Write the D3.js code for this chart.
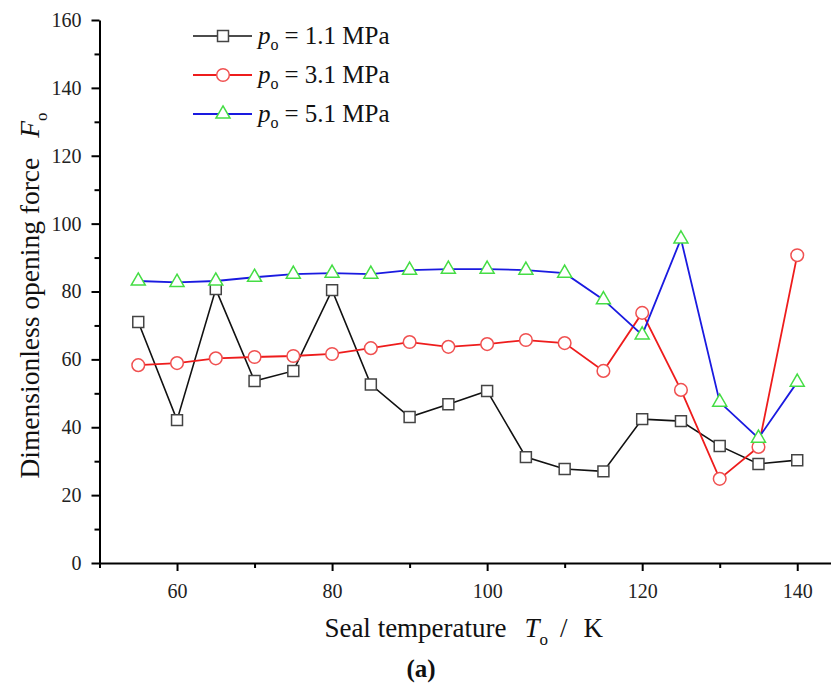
<!DOCTYPE html>
<html lang="en">
<head>
<meta charset="utf-8">
<title>Dimensionless opening force vs seal temperature</title>
<script src="https://d3js.org/d3.v7.min.js"></script>
<style>
  body { margin: 0; background: #fff; }
  svg text { font-family: "Liberation Serif", "Times New Roman", serif; }
</style>
</head>
<body>
<script>
// data
var temps = [55, 60, 65, 70, 75, 80, 85, 90, 95, 100, 105, 110, 115, 120, 125, 130, 135, 140];
var f11 = [71.0, 42.1, 80.7, 53.6, 56.6, 80.4, 52.6, 43.0, 46.8, 50.7, 31.2, 27.7, 27.0, 42.4, 41.8, 34.5, 29.2, 30.3];
var f31 = [58.3, 58.9, 60.3, 60.7, 61.0, 61.6, 63.3, 65.1, 63.7, 64.5, 65.7, 64.8, 56.6, 73.7, 51.0, 24.8, 34.2, 90.7];
var f51 = [83.1, 82.7, 83.1, 84.2, 85.1, 85.4, 85.1, 86.3, 86.6, 86.6, 86.3, 85.4, 77.6, 67.2, 95.5, 47.4, 36.8, 53.3];
var seriesNames = ["1.1", "3.1", "5.1"];
var xMajor = [60, 80, 100, 120, 140];
var xMinor = [50, 70, 90, 110, 130];
var yMajor = [0, 20, 40, 60, 80, 100, 120, 140, 160];
var yMinor = [10, 30, 50, 70, 90, 110, 130, 150];

var width = 831, height = 689;

var svg = d3.select("body").append("svg")
    .attr("width", width)
    .attr("height", height);

var x = d3.scaleLinear().domain([50, 145]).range([99.5, 836]);
var y = d3.scaleLinear().domain([0, 160]).range([563, 20]);

// axes
var xAxis = svg.append("g").attr("transform", "translate(0," + y(0) + ")");
xAxis.call(d3.axisBottom(x).tickValues(xMajor).tickSize(8).tickPadding(13).tickSizeOuter(0));
xAxis.append("g").call(d3.axisBottom(x).tickValues(xMinor).tickSize(5).tickFormat("").tickSizeOuter(0))
    .select(".domain").remove();

var yAxis = svg.append("g").attr("transform", "translate(" + x(50) + ",0)");
yAxis.call(d3.axisLeft(y).tickValues(yMajor).tickSize(8).tickPadding(10).tickSizeOuter(0));
yAxis.append("g").call(d3.axisLeft(y).tickValues(yMinor).tickSize(5).tickFormat("").tickSizeOuter(0))
    .select(".domain").remove();

svg.selectAll(".domain").attr("stroke", "#000").attr("stroke-width", 2);
svg.selectAll(".tick line").attr("stroke", "#000").attr("stroke-width", 2);
svg.selectAll(".tick text")
    .attr("font-family", "Liberation Serif, Times New Roman, serif")
    .attr("font-size", 20).attr("fill", "#222");

// series
var series = [
  { name: seriesNames[0], values: f11, line: "#111", mark: "#444", width: 1.6, symbol: d3.symbolSquare, size: 120 },
  { name: seriesNames[1], values: f31, line: "#ee1c1c", mark: "#f05050", width: 1.8, symbol: d3.symbolCircle, size: 125 },
  { name: seriesNames[2], values: f51, line: "#1a1ae0", mark: "#44dd44", width: 1.8, symbol: d3.symbolTriangle, size: 85 }
];

var line = d3.line()
    .x(function(d, i) { return x(temps[i]); })
    .y(function(d) { return y(d); });

series.forEach(function(s) {
  var g = svg.append("g");
  g.append("path")
      .attr("d", line(s.values))
      .attr("fill", "none")
      .attr("stroke", s.line)
      .attr("stroke-width", s.width);
  g.selectAll("path.mk")
      .data(s.values)
      .enter().append("path")
      .attr("class", "mk")
      .attr("d", d3.symbol().type(s.symbol).size(s.size))
      .attr("transform", function(d, i) { return "translate(" + x(temps[i]) + "," + y(d) + ")"; })
      .attr("fill", "#fff")
      .attr("stroke", s.mark)
      .attr("stroke-width", 1.5);
});

// legend
var legend = svg.append("g").attr("transform", "translate(193,36)");
series.forEach(function(s, i) {
  var row = legend.append("g").attr("transform", "translate(0," + (i * 39) + ")");
  row.append("line").attr("x1", 0).attr("x2", 59).attr("y1", 0).attr("y2", 0)
      .attr("stroke", s.line).attr("stroke-width", s.width);
  row.append("path")
      .attr("d", d3.symbol().type(s.symbol).size(s.size))
      .attr("transform", "translate(30,0)")
      .attr("fill", "#fff").attr("stroke", s.mark).attr("stroke-width", 1.5);
  var t = row.append("text").attr("x", 65).attr("y", 8).attr("font-size", 25).attr("fill", "#111");
  t.append("tspan").attr("font-style", "italic").text("p");
  t.append("tspan").attr("font-size", 16).attr("dy", 6).text("o");
  t.append("tspan").attr("dy", -6).attr("dx", 6).text("= " + s.name + " MPa");
});

// axis titles
var xt = svg.append("text")
    .attr("x", (x.range()[0] + 836) / 2 - 4)
    .attr("y", 637)
    .attr("text-anchor", "middle")
    .attr("font-size", 27)
    .attr("fill", "#111");
xt.append("tspan").text("Seal temperature");
xt.append("tspan").attr("dx", 18).attr("font-style", "italic").text("T");
xt.append("tspan").attr("font-size", 17).attr("dy", 8).text("o");
xt.append("tspan").attr("dy", -8).attr("dx", 12).text("/");
xt.append("tspan").attr("dx", 16).text("K");

var yt = svg.append("text")
    .attr("transform", "translate(39," + ((y(0) + y(160)) / 2 + 4) + ") rotate(-90)")
    .attr("text-anchor", "middle")
    .attr("font-size", 27.5)
    .attr("fill", "#111");
yt.append("tspan").text("Dimensionless opening force");
yt.append("tspan").attr("dx", 20).attr("font-style", "italic").text("F");
yt.append("tspan").attr("font-size", 17).attr("dy", 8).text("o");

// panel label
svg.append("text")
    .attr("x", 421)
    .attr("y", 677)
    .attr("text-anchor", "middle")
    .attr("font-family", "DejaVu Serif, serif")
    .attr("font-weight", "bold")
    .attr("font-size", 25)
    .attr("fill", "#111")
    .text("(a)");
</script>
</body>
</html>
